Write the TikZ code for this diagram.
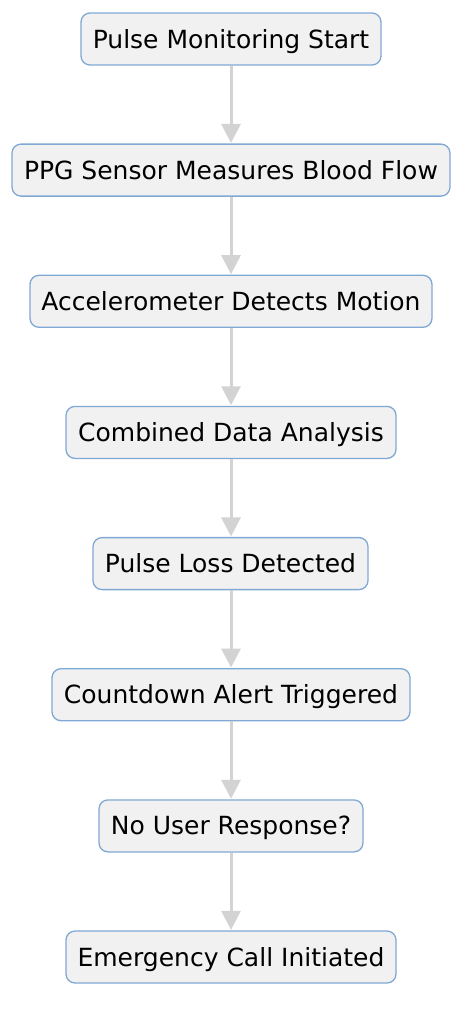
\documentclass[tikz,border=0pt]{standalone}
\usepackage{fontspec}
\setmainfont{DejaVu Sans}
\usetikzlibrary{arrows.meta}
\definecolor{boxfill}{HTML}{F1F1F1}
\definecolor{boxline}{HTML}{80A8D4}
\definecolor{arrowgray}{HTML}{D3D3D3}
\begin{document}
\begin{tikzpicture}[x=1bp,y=1bp,
  flowbox/.style={draw=boxline, fill=boxfill, line width=1.3bp, rounded corners=9bp,
    minimum height=52bp, inner xsep=0bp, inner ysep=0bp, text height=23bp, text depth=5bp,
    font=\fontsize{25bp}{30bp}\selectfont, text=black},
  flowarrow/.style={draw=arrowgray, line width=3bp, -{Triangle[width=19bp,length=19bp]}, shorten >=0.5bp}]
\useasboundingbox (0,0) rectangle (475,-1024);
\node[flowbox, minimum width=300bp] (n1) at (231,-39) {Pulse Monitoring Start};
\node[flowbox, minimum width=438bp] (n2) at (231,-170.1) {PPG Sensor Measures Blood Flow};
\node[flowbox, minimum width=402bp] (n3) at (231,-301.3) {Accelerometer Detects Motion};
\node[flowbox, minimum width=330bp] (n4) at (231,-432.4) {Combined Data Analysis};
\node[flowbox, minimum width=275bp] (n5) at (230.5,-563.6) {Pulse Loss Detected};
\node[flowbox, minimum width=358bp] (n6) at (231,-694.7) {Countdown Alert Triggered};
\node[flowbox, minimum width=264bp] (n7) at (231,-825.9) {No User Response?};
\node[flowbox, minimum width=330bp] (n8) at (231,-957) {Emergency Call Initiated};
\foreach \a/\b in {n1/n2,n2/n3,n3/n4,n4/n5,n5/n6,n6/n7,n7/n8}
  \draw[flowarrow] (\a.south -| 231,0) -- (\b.north -| 231,0);
\end{tikzpicture}
\end{document}
